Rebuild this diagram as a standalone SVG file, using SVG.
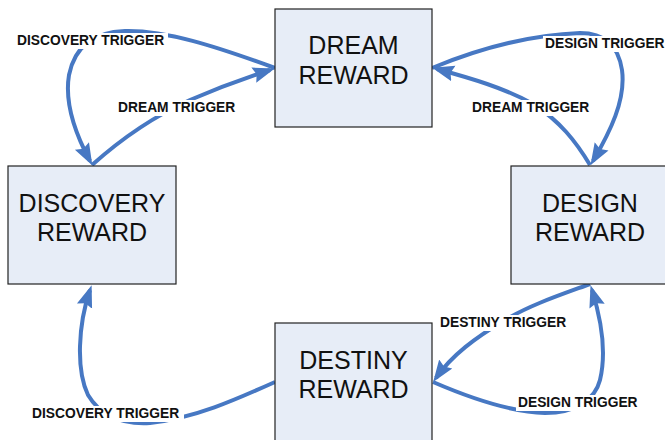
<svg xmlns="http://www.w3.org/2000/svg" width="665" height="440" viewBox="0 0 665 440">
  <style>
    .box { fill: #e7edf7; stroke: #222222; stroke-width: 1.2; }
    .title { font-family: "Liberation Sans", Arial, sans-serif; font-size: 25px; fill: #111; text-anchor: middle; }
    .flow { fill: none; stroke: #4778c3; stroke-width: 4; }
    .tag { font-family: "Liberation Sans", Arial, sans-serif; font-size: 13.8px; font-weight: bold; fill: #111; }
    .tagbg { fill: #ffffff; }
  </style>
  <defs>
    <marker id="head" markerUnits="userSpaceOnUse" markerWidth="24" markerHeight="18" viewBox="0 0 24 18" refX="17" refY="9" orient="auto">
      <path d="M0,1 L22,9 L0,17 L3,9 z" fill="#4778c3"/>
    </marker>
  </defs>

  <rect width="665" height="440" fill="#ffffff"/>

  <!-- connectors -->
  <g id="connectors">
    <!-- DREAM -> DISCOVERY (discovery trigger) -->
    <path class="flow" d="M275,68 C215,46 165,30 125,31 C95,32 75,45 69,75 C64,105 76,135 90,161" marker-end="url(#head)"/>
    <!-- DISCOVERY -> DREAM (dream trigger) -->
    <path class="flow" d="M92,165 C120,140 150,118 190,100 C220,87 245,78 270,70" marker-end="url(#head)"/>
    <!-- DREAM -> DESIGN (design trigger) -->
    <path class="flow" d="M432,68 C480,48 530,35 580,33 C605,33 618,45 622,70 C626,100 610,132 593,161" marker-end="url(#head)"/>
    <!-- DESIGN -> DREAM (dream trigger) -->
    <path class="flow" d="M590,165 C575,140 560,122 535,105 C505,88 470,78 437,69" marker-end="url(#head)"/>
    <!-- DESIGN -> DESTINY (destiny trigger) -->
    <path class="flow" d="M590,284 C560,295 530,305 505,320 C475,338 452,355 436,378" marker-end="url(#head)"/>
    <!-- DESTINY -> DESIGN (design trigger) -->
    <path class="flow" d="M433,382 C470,398 510,412 545,413 C575,413 595,400 600,380 C606,355 602,322 592,290" marker-end="url(#head)"/>
    <!-- DESTINY -> DISCOVERY (discovery trigger) -->
    <path class="flow" d="M275,382 C235,400 195,418 150,423 C115,425 97,410 88,395 C76,370 78,325 90,290" marker-end="url(#head)"/>
  </g>

  <!-- connector labels -->
  <g id="labels">
    <rect class="tagbg" x="15" y="33" width="153" height="16"/>
    <text class="tag" x="17" y="45">DISCOVERY TRIGGER</text>
    <rect class="tagbg" x="116" y="100" width="123" height="16"/>
    <text class="tag" x="118" y="112">DREAM TRIGGER</text>
    <rect class="tagbg" x="543" y="36" width="122" height="16"/>
    <text class="tag" x="545" y="48">DESIGN TRIGGER</text>
    <rect class="tagbg" x="470" y="100" width="123" height="16"/>
    <text class="tag" x="472" y="112">DREAM TRIGGER</text>
    <rect class="tagbg" x="438" y="315" width="133" height="16"/>
    <text class="tag" x="440" y="327">DESTINY TRIGGER</text>
    <rect class="tagbg" x="516" y="395" width="126" height="16"/>
    <text class="tag" x="518" y="407">DESIGN TRIGGER</text>
    <rect class="tagbg" x="30" y="406" width="154" height="16"/>
    <text class="tag" x="32" y="418">DISCOVERY TRIGGER</text>
  </g>

  <!-- nodes -->
  <g id="dream">
    <rect class="box" x="275" y="9" width="157" height="118"/>
    <text class="title" x="353.5" y="54">DREAM</text>
    <text class="title" x="353.5" y="84">REWARD</text>
  </g>
  <g id="discovery">
    <rect class="box" x="8" y="166" width="168" height="118"/>
    <text class="title" x="92" y="212">DISCOVERY</text>
    <text class="title" x="92" y="241">REWARD</text>
  </g>
  <g id="design">
    <rect class="box" x="511" y="166" width="158" height="118"/>
    <text class="title" x="590" y="212">DESIGN</text>
    <text class="title" x="590" y="241">REWARD</text>
  </g>
  <g id="destiny">
    <rect class="box" x="275" y="323" width="157" height="122"/>
    <text class="title" x="353.5" y="369">DESTINY</text>
    <text class="title" x="353.5" y="398">REWARD</text>
  </g>
</svg>
